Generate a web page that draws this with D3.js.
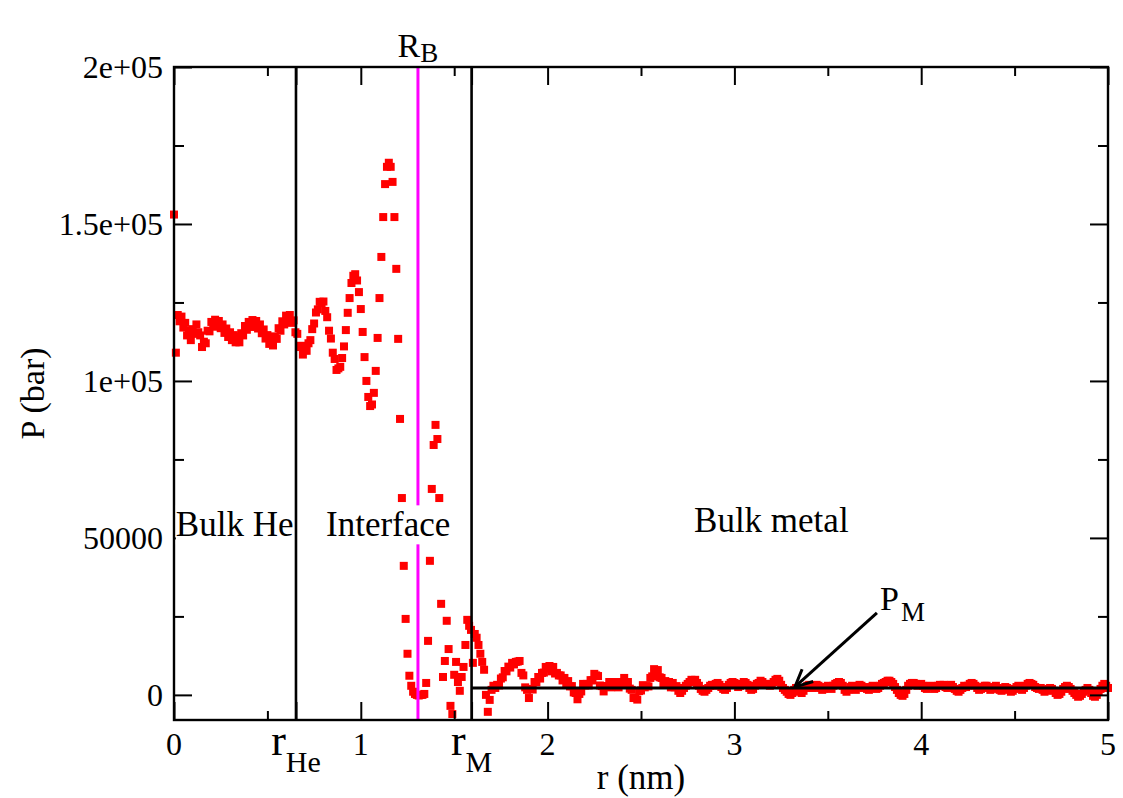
<!DOCTYPE html>
<html><head><meta charset="utf-8">
<script src="https://cdn.jsdelivr.net/npm/d3@7"></script>
<style>
body{margin:0;background:#fff}
svg{display:block}
svg text{font-family:"Liberation Serif","DejaVu Serif",serif !important;fill:#000}
</style>
</head><body>
<svg id="c" width="1123" height="798" font-family="Liberation Serif, serif"></svg>
<script>
// ---------------- data ----------------
const rStart = 0;      // nm, first sample
const rStep = 0.01;    // nm, sampling interval
// pressure P(r) in bar, one value per sample (r = 0.00 ... 5.00 nm)
const pressure = [
153000,109000,121000,119000,120500,117000,118500,114500,116000,113000,
116500,115000,118000,115500,114500,110800,112500,112000,116000,115800,
118800,117300,119500,117400,119100,116800,118000,115300,116700,114000,
115500,113000,114600,112300,114100,112300,115200,114500,117500,116300,
118800,117200,119400,117400,119100,116700,118000,115200,116400,113500,
114600,111800,113200,111300,114200,113400,116800,116000,119000,118000,
120800,119100,121000,118500,119300,115500,115000,110800,111200,108400,
109800,109600,112000,113000,116500,118300,121800,122800,125200,124800,
125300,122300,120300,116000,113500,109000,107000,103500,104000,104500,
107300,111000,116200,121700,126400,131200,133500,134000,132000,128300,
122900,115600,107600,100000,94900,92000,92500,96200,103200,113700,
126400,139500,152200,162700,168200,169500,168200,163400,152200,135700,
113400,87900,62700,41100,24200,13100,6100,2900,1000,300,
0,-200,0,0,300,3800,17200,42700,65600,79600,
86000,81500,62700,29000,5700,10800,23600,14600,-3500,-6100,
6400,10500,4100,1300,5700,8900,15900,23900,22000,20700,
10200,19400,18200,15900,13100,10500,8000,0,-5400,-1600,
1600,2900,2200,3200,3000,5200,5600,7600,7500,9000,
8700,10200,9700,10500,10600,10800,7000,6200,2400,1600,
-1000,1900,1700,4100,4000,5700,5200,7000,7100,8900,
8400,9200,7500,8900,6800,7000,6200,6200,4600,5400,
3600,4400,2700,2800,800,600,-1400,300,1100,3500,
3000,3500,3000,4700,4600,6700,6200,6000,3000,2800,
1100,2800,2700,4100,2400,4100,3300,3800,2400,4100,
3600,5400,3600,4100,2000,1600,-1000,-1000,-1500,1200,
1400,3100,2400,2800,2700,5400,5900,8200,7800,7900,
5600,5400,3600,4400,3600,4100,2400,3800,2400,2800,
1300,600,1300,2200,2900,3500,4100,4800,4500,4800,
3800,2900,1900,1300,1000,1600,2200,2900,3200,2900,
3500,3800,3200,2500,1900,1600,2200,3200,3800,4100,
3800,3200,2500,2900,3500,4100,3800,3200,2200,1600,
1900,2900,3500,3800,4500,4100,3500,3200,3500,2900,
3500,4100,4800,5100,4500,3200,2200,1600,1000,300,
0,600,1600,2200,1900,1000,600,1300,2200,2900,
3200,2900,2200,2500,3200,2900,2200,1600,1900,2500,
2900,2200,1900,2900,3500,3800,4100,3800,2900,1600,
1000,1600,2500,2900,2200,1600,2500,3200,2900,2200,
2500,1900,1600,2200,2900,2500,1900,2200,2900,3500,
3800,4100,4500,4500,4100,3500,2500,1600,600,0,
-300,300,1600,2900,3500,3800,3800,3500,2900,3200,
3500,2900,2200,1900,2500,2900,2500,1900,2200,2900,
3200,2900,3200,2500,2200,2900,3200,2500,1900,1300,
1000,1600,2200,2900,2500,2900,3500,3800,3500,2900,
2200,1600,1900,2500,2900,2900,2200,1600,1900,2500,
2900,2200,1600,1300,1900,2500,2200,1600,1000,1300,
1900,2500,2900,2200,1600,2200,2900,3500,3800,3500,
3200,2500,2200,1900,2200,1600,1000,1300,1900,2200,
1900,1300,600,0,300,1000,1900,2500,2900,2500,
1900,1300,600,0,-600,-300,300,1000,1600,2200,
1600,600,-300,-600,0,1000,1900,2900,3500,2900,
2200
];

// region boundaries (nm) and mean metal pressure (bar)
const rHe = 0.653;
const rM = 1.593;
const RB = 1.306;
const PM = 2200;

// axes
const xDomain = [0, 5];
const yDomain = [-8000, 200000];
const xMajorTicks = [0, rHe, 1, rM, 2, 3, 4, 5];
const xMajorLabels = [["0"], ["r", "He"], ["1"], ["r", "M"], ["2"], ["3"], ["4"], ["5"]];
const xMinorTicks = [0.5, 1.5, 2.5, 3.5, 4.5];
const yMajorTicks = [0, 50000, 100000, 150000, 200000];
const yMajorLabels = ["0", "50000", "1e+05", "1.5e+05", "2e+05"];
const yMinorTicks = [25000, 75000, 125000, 175000];
const xTitle = "r (nm)";
const yTitle = "P (bar)";

// annotations (data coordinates)
const regionLabels = [
  {text: "Bulk He", r: 0.01, p: 50500},
  {text: "Interface", r: 0.814, p: 50500},
  {text: "Bulk metal", r: 2.784, p: 52000}
];
const pmLabel = {main: "P", sub: "M", r: 3.78, p: 27000};
const pmArrow = {r0: 3.763, p0: 26100, r1: 3.324, p1: 2550};
const rbLabel = {main: "R", sub: "B"};

// ---------------- drawing ----------------
const FONT = "'Liberation Serif', 'DejaVu Serif', serif";
const L = 174, R = 1108, T = 67, B = 720;
const x = d3.scaleLinear().domain(xDomain).range([L, R]);
const y = d3.scaleLinear().domain(yDomain).range([B, T]);
const svg = d3.select("#c");
const S = 8; // marker size

// data points
svg.append("g").selectAll("rect").data(pressure).join("rect")
  .attr("x", (d, i) => x(rStart + i * rStep) - S / 2)
  .attr("y", d => y(d) - S / 2)
  .attr("width", S).attr("height", S)
  .attr("fill", "#ff0000");

// vertical region lines
[[rHe, "#000", 2.6], [rM, "#000", 2.6], [RB, "#ff00ff", 3]].forEach(([v, c, w]) => {
  svg.append("line").attr("x1", x(v)).attr("x2", x(v)).attr("y1", y(yDomain[0])).attr("y2", y(yDomain[1]))
    .attr("stroke", c).attr("stroke-width", w);
});

// mean metal pressure line
svg.append("line").attr("x1", x(rM)).attr("x2", x(xDomain[1])).attr("y1", y(PM)).attr("y2", y(PM))
  .attr("stroke", "#000").attr("stroke-width", 3);

// arrow
const ax0 = x(pmArrow.r0), ay0 = y(pmArrow.p0), ax1 = x(pmArrow.r1), ay1 = y(pmArrow.p1);
svg.append("line").attr("x1", ax0).attr("y1", ay0).attr("x2", ax1).attr("y2", ay1)
  .attr("stroke", "#000").attr("stroke-width", 3);
const ang = Math.atan2(ay0 - ay1, ax0 - ax1);
const hl = 19, ha = 0.45;
svg.append("path")
  .attr("d", `M${ax1 + hl * Math.cos(ang + ha)},${ay1 + hl * Math.sin(ang + ha)} L${ax1},${ay1} L${ax1 + hl * Math.cos(ang - ha)},${ay1 + hl * Math.sin(ang - ha)}`)
  .attr("fill", "none").attr("stroke", "#000").attr("stroke-width", 3);

// frame
svg.append("rect").attr("x", L).attr("y", T).attr("width", R - L).attr("height", B - T)
  .attr("fill", "none").attr("stroke", "#000").attr("stroke-width", 2.4);

function tickGroup(gen, tx, ty) {
  const g = svg.append("g").attr("transform", `translate(${tx},${ty})`).call(gen);
  g.select(".domain").remove();
  g.selectAll("text").remove();
  g.selectAll(".tick line").attr("stroke", "#000").attr("stroke-width", 2);
}
tickGroup(d3.axisBottom(x).tickValues(xMajorTicks).tickSize(-18), 0, B);
tickGroup(d3.axisBottom(x).tickValues(xMinorTicks).tickSize(-9), 0, B);
tickGroup(d3.axisTop(x).tickValues(xMajorTicks).tickSize(-18), 0, T);
tickGroup(d3.axisTop(x).tickValues(xMinorTicks).tickSize(-9), 0, T);
tickGroup(d3.axisLeft(y).tickValues(yMajorTicks).tickSize(-18), L, 0);
tickGroup(d3.axisLeft(y).tickValues(yMinorTicks).tickSize(-10), L, 0);
tickGroup(d3.axisRight(y).tickValues(yMajorTicks).tickSize(-18), R, 0);
tickGroup(d3.axisRight(y).tickValues(yMinorTicks).tickSize(-10), R, 0);

const txt = svg.append("g").attr("font-family", FONT);

// y tick labels
txt.append("g").selectAll("text").data(yMajorTicks).join("text")
  .attr("x", L - 11).attr("y", d => y(d)).attr("dy", "0.34em")
  .attr("text-anchor", "end").attr("font-size", 32)
  .text((d, i) => yMajorLabels[i]);

// x tick labels
xMajorTicks.forEach((v, i) => {
  const lab = xMajorLabels[i];
  const t = txt.append("text").attr("x", x(v)).attr("y", 755).attr("text-anchor", "middle");
  if (lab.length === 1) {
    t.attr("font-size", 32).text(lab[0]);
  } else {
    t.append("tspan").attr("font-size", 44).text(lab[0]);
    t.append("tspan").attr("font-size", 30).attr("dy", 17).text(lab[1]);
  }
});

// axis titles
txt.append("text").attr("x", (L + R) / 2).attr("y", 789).attr("text-anchor", "middle")
  .attr("font-size", 35).text(xTitle);
txt.append("text").attr("transform", `translate(44,${(T + B) / 2}) rotate(-90)`)
  .attr("text-anchor", "middle").attr("font-size", 34).text(yTitle);

// R_B label above frame
const rb = txt.append("text").attr("x", x(RB)).attr("y", 57).attr("text-anchor", "middle");
rb.append("tspan").attr("font-size", 34).text(rbLabel.main);
rb.append("tspan").attr("font-size", 27).attr("dy", 5).text(rbLabel.sub);

// region labels with white background
regionLabels.forEach(d => {
  const g = txt.append("g");
  const t = g.append("text").attr("x", x(d.r)).attr("y", y(d.p)).attr("font-size", 35).text(d.text);
  const bb = t.node().getBBox();
  g.insert("rect", "text").attr("x", bb.x).attr("y", bb.y).attr("width", bb.width).attr("height", bb.height)
    .attr("fill", "#fff");
});

// P_M label
const pm = txt.append("text").attr("x", x(pmLabel.r)).attr("y", y(pmLabel.p));
pm.append("tspan").attr("font-size", 34).text(pmLabel.main);
pm.append("tspan").attr("font-size", 27).attr("dy", 11).attr("dx", 2).text(pmLabel.sub);
</script>
</body></html>
